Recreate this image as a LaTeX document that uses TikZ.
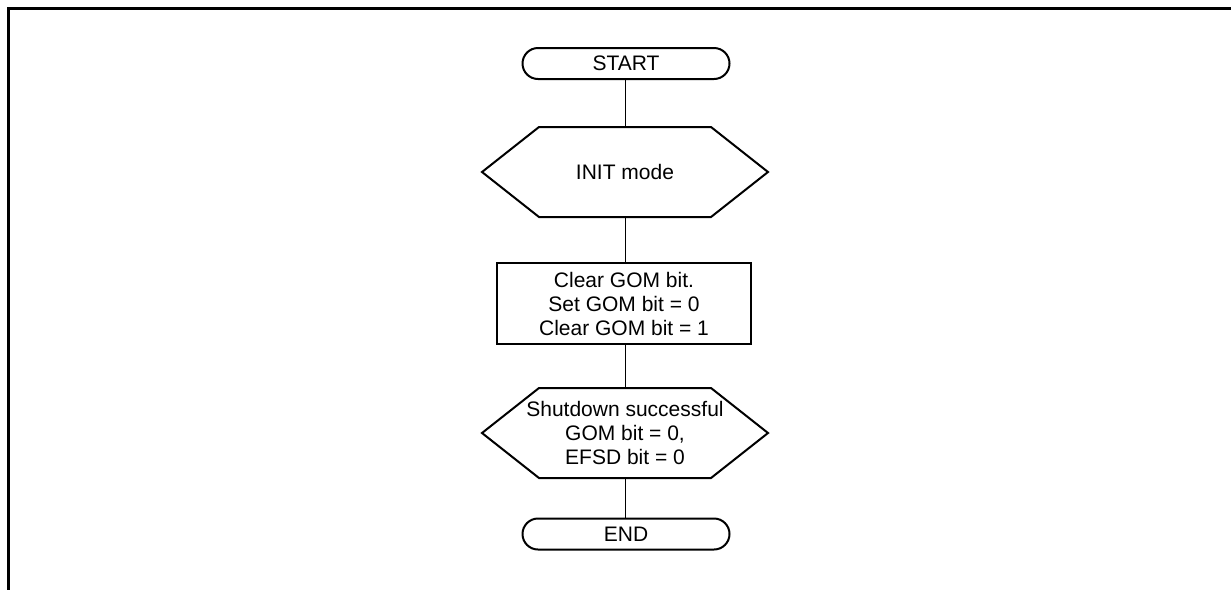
\documentclass[tikz,border=0pt]{standalone}
\usepackage{fontspec}
\setmainfont{Liberation Sans}
\usetikzlibrary{shapes.misc}
\begin{document}
\begin{tikzpicture}[x=1pt,y=-1pt,
  every node/.style={font=\fontsize{21}{24}\selectfont, align=center, inner sep=0pt, outer sep=0pt},
  termnode/.style={rounded rectangle, draw, line width=2pt, minimum width=207pt, minimum height=31pt},
  boxnode/.style={rectangle, draw, line width=2pt, minimum width=254pt, minimum height=81pt},
  hexnode/.style={rectangle, minimum width=286pt, minimum height=90pt},
  hexline/.style={line width=2pt, line join=miter},
  conn/.style={line width=1pt},
  frameline/.style={line width=3pt}
]
\useasboundingbox (0,0) rectangle (1231,590);
\draw[frameline] (1231,8.5) -- (8.5,8.5) -- (8.5,590);

\node[termnode] (start) at (626,63.5) {START};
\node[hexnode] (init) at (625,172) {INIT mode};
\node[boxnode] (clear) at (624,303.5) {Clear GOM bit.\\Set GOM bit = 0\\Clear GOM bit = 1};
\node[hexnode] (shut) at (625,433) {Shutdown successful\\GOM bit = 0,\\EFSD bit = 0};
\node[termnode] (endn) at (626,534) {END};

\foreach \n in {init,shut}{
  \draw[hexline] (\n.west) -- ([xshift=57pt]\n.north west) -- ([xshift=-57pt]\n.north east)
    -- (\n.east) -- ([xshift=-57pt]\n.south east) -- ([xshift=57pt]\n.south west) -- cycle;
}

\draw[conn] (start.south -| init.north) -- (init.north);
\draw[conn] (init.south) -- (init.south |- clear.north);
\draw[conn] (clear.south -| shut.north) -- (shut.north);
\draw[conn] (shut.south) -- (shut.south |- endn.north);
\end{tikzpicture}
\end{document}
